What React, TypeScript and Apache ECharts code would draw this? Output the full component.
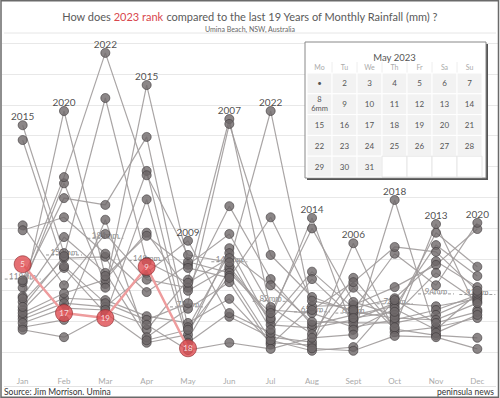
import React, { useEffect, useRef } from "react";
import * as echarts from "echarts";

const months = ["Jan", "Feb", "Mar", "Apr", "May", "Jun", "Jul", "Aug", "Sept", "Oct", "Nov", "Dec"];

// Monthly rainfall (mm), Jan..Dec, per past year
const r2005 = [68, 136, 63, 15, 28, 168, 44, 39, 52, 79, 74, 86];
const r2006 = [58, 87, 84, 58, 47, 86, 15, 11, 176, 32, 40, 55];
const r2007 = [81, 152, 154, 36, 117, 377, 68, 63, 40, 52, 68, 92];
const r2008 = [104, 273, 110, 293, 21, 134, 52, 130, 71, 87, 147, 105];
const r2009 = [53, 79, 73, 128, 180, 57, 24, 16, 104, 37, 27, 23];
const r2010 = [90, 186, 128, 24, 70, 113, 12, 74, 76, 105, 141, 199];
const r2011 = [205, 108, 191, 117, 104, 236, 118, 44, 60, 74, 173, 123];
const r2012 = [113, 249, 238, 348, 40, 160, 108, 49, 47, 47, 60, 89];
const r2013 = [197, 218, 159, 97, 141, 191, 73, 29, 120, 40, 207, 68];
const r2014 = [63, 95, 117, 193, 99, 138, 55, 217, 36, 70, 36, 95];
const r2015 = [367, 160, 104, 432, 146, 128, 63, 200, 81, 60, 128, 82];
const r2016 = [343, 139, 79, 52, 79, 369, 157, 89, 65, 55, 52, 79];
const r2017 = [40, 52, 214, 19, 36, 123, 19, 2, 8, 84, 47, 65];
const r2018 = [47, 71, 68, 44, 3, 15, 5, 23, 28, 246, 31, 60];
const r2019 = [36, 24, 60, 247, 15, 63, 31, 6, 2, 26, 24, 5];
const r2020 = [87, 390, 123, 188, 136, 120, 218, 83, 68, 159, 108, 209];
const r2021 = [73, 155, 411, 146, 112, 152, 36, 118, 55, 65, 193, 138];
const r2022 = [116, 283, 484, 286, 157, 145, 390, 68, 113, 170, 162, 99];

const rain2023 = [142, 63, 55, 138, 6];

const avgRain = [118, 157, 184, 148, 73, 146, 82, 65, 63, 78, 94, 93];
const avgLabels = ["118mm", "157mm", "184mm", "148mm", "73mm", "146mm", "82mm", "65mm", "63mm", "78mm", "94mm", "93mm"];

const pastYears = [
  { year: 2005, values: r2005 }, { year: 2006, values: r2006 }, { year: 2007, values: r2007 },
  { year: 2008, values: r2008 }, { year: 2009, values: r2009 }, { year: 2010, values: r2010 },
  { year: 2011, values: r2011 }, { year: 2012, values: r2012 }, { year: 2013, values: r2013 },
  { year: 2014, values: r2014 }, { year: 2015, values: r2015 }, { year: 2016, values: r2016 },
  { year: 2017, values: r2017 }, { year: 2018, values: r2018 }, { year: 2019, values: r2019 },
  { year: 2020, values: r2020 }, { year: 2021, values: r2021 }, { year: 2022, values: r2022 },
];

// Calendar inset
const calTitle = "May 2023";
const weekdays = ["Mo", "Tu", "We", "Th", "Fr", "Sa", "Su"];
const calDays = ["•", "2", "3", "4", "5", "6", "7", "8", "9", "10", "11", "12", "13", "14", "15", "16", "17", "18", "19", "20", "21", "22", "23", "24", "25", "26", "27", "28", "29", "30", "31"];
const calNoteDay = 8;
const calNote = "6mm";

const FONT = "Lato";

function buildOption() {
  const series: any[] = [];

  // average dashed markers
  series.push({
    type: "custom",
    z: 1,
    silent: true,
    itemStyle: { color: "#8a8a8a" },
    data: avgRain.map((v, i) => [i, v]),
    renderItem: (params: any, api: any) => {
      const p = api.coord([api.value(0), api.value(1)]);
      const half = 18;
      return {
        type: "group",
        children: [
          {
            type: "line",
            shape: { x1: p[0] - half, y1: p[1], x2: p[0] + half, y2: p[1] },
            style: { stroke: "#9a9a9a", lineWidth: 1, lineDash: [3, 2] },
          },
          {
            type: "text",
            style: {
              text: avgLabels[params.dataIndex],
              x: p[0],
              y: p[1] + 1,
              align: "center",
              verticalAlign: "bottom",
              fill: "#8a8a8a",
              fontSize: 8,
              fontFamily: FONT,
            },
          },
        ],
      };
    },
  });

  pastYears.forEach((py) => {
    series.push({
      type: "line",
      name: String(py.year),
      data: py.values,
      symbol: "none",
      z: 2,
      silent: true,
      lineStyle: { color: "#a09b9b", width: 1.2, opacity: 0.9 },
    });
  });

  // dots with labels for monthly maxima
  const dots: any[] = [];
  months.forEach((_, m) => {
    let maxV = -1;
    let maxY = 0;
    pastYears.forEach((py) => {
      if (py.values[m] > maxV) {
        maxV = py.values[m];
        maxY = py.year;
      }
    });
    pastYears.forEach((py) => {
      const item: any = { value: [m, py.values[m]] };
      if (py.year === maxY) {
        item.label = {
          show: true,
          position: "top",
          distance: -1,
          formatter: String(py.year),
          color: "#222",
          fontSize: 10,
          fontFamily: FONT,
        };
      }
      dots.push(item);
    });
  });
  series.push({
    type: "scatter",
    data: dots,
    z: 3,
    symbolSize: 9,
    silent: true,
    itemStyle: { color: "#6e6869", borderColor: "#3f3b3c", borderWidth: 0.8 },
  });

  // 2023
  series.push({
    type: "line",
    data: rain2023,
    symbol: "none",
    z: 4,
    silent: true,
    lineStyle: { color: "#ee9c9d", width: 2.5 },
  });
  series.push({
    type: "scatter",
    z: 5,
    silent: true,
    symbolSize: 17,
    data: rain2023.map((v, m) => {
      const rank = 1 + pastYears.filter((py) => py.values[m] > v).length;
      return {
        value: [m, v],
        label: { show: true, position: "inside", formatter: String(rank), color: "#fff", fontSize: 8, fontFamily: FONT },
      };
    }),
    itemStyle: { color: "#df4b50", borderColor: "#8e2a2e", borderWidth: 0.8 },
  });

  // graphics: frame, separators, calendar, footer
  const g: any[] = [];
  g.push({ type: "rect", shape: { x: 1, y: 0.75, width: 497.5, height: 396.5 }, style: { fill: "none", stroke: "#6a6a6a", lineWidth: 1.5 }, z: 100 });
  g.push({ type: "line", shape: { x1: 4, y1: 33, x2: 496, y2: 33 }, style: { stroke: "#e6e6e6", lineWidth: 1 } });
  g.push({ type: "line", shape: { x1: 4, y1: 386.5, x2: 496, y2: 386.5 }, style: { stroke: "#e3e3e3", lineWidth: 1 } });
  g.push({ type: "text", style: { text: "Source: Jim Morrison. Umina", x: 4, y: 391.5, verticalAlign: "middle", fill: "#333", fontSize: 8.5, fontFamily: FONT } });
  g.push({ type: "text", style: { text: "peninsula news", x: 494, y: 391.5, align: "right", verticalAlign: "middle", fill: "#333", fontSize: 8.5, fontFamily: FONT } });

  const bx = 305, by = 42, bw = 181, bh = 136;
  g.push({ type: "rect", z: 50, shape: { x: bx + 2, y: by + 2, width: bw, height: bh }, style: { fill: "#555" } });
  g.push({ type: "rect", z: 51, shape: { x: bx, y: by, width: bw, height: bh }, style: { fill: "#fff", stroke: "#888", lineWidth: 1 } });
  g.push({ type: "text", z: 52, style: { text: calTitle, x: bx + bw / 2 - 1, y: 57, align: "center", verticalAlign: "middle", fill: "#555", fontSize: 9.5, fontFamily: FONT } });
  const cx0 = 307, cw = 25, cy0 = 73, ch = 20.8;
  weekdays.forEach((d, i) => {
    g.push({ type: "text", z: 52, style: { text: d, x: cx0 + cw * i + cw / 2, y: 67, align: "center", verticalAlign: "middle", fill: "#aaa", fontSize: 7, fontFamily: FONT } });
    if (i > 0) g.push({ type: "line", z: 52, shape: { x1: cx0 + cw * i, y1: 62, x2: cx0 + cw * i, y2: 73 }, style: { stroke: "#eee", lineWidth: 1 } });
  });
  for (let k = 0; k < 35; k++) {
    const col = k % 7;
    const row = Math.floor(k / 7);
    const x = cx0 + col * cw;
    const y = cy0 + row * ch;
    const has = k < calDays.length;
    g.push({ type: "rect", z: 52, shape: { x, y, width: cw, height: ch }, style: { fill: has ? "#f2f2f2" : "#fff", stroke: has ? "#fff" : "#e6e6e6", lineWidth: 1 } });
    if (has) {
      const day = k + 1;
      const txt = day === calNoteDay ? calDays[k] + "\n" + calNote : calDays[k];
      g.push({ type: "text", z: 53, style: { text: txt, x: x + cw / 2, y: y + ch / 2, align: "center", verticalAlign: "middle", fill: "#555", fontSize: day === calNoteDay ? 7.5 : 8, lineHeight: 9, fontFamily: FONT } });
    }
  }

  return {
    animation: false,
    backgroundColor: "#fff",
    title: {
      text: "{a|How does }{b|2023 rank}{a| compared to the last 19 Years of Monthly Rainfall (mm) ?}",
      subtext: "Umina Beach, NSW, Australia",
      left: "center",
      top: 6,
      itemGap: 3,
      textStyle: {
        fontWeight: "normal",
        rich: {
          a: { fontSize: 11, color: "#5a5a5a", fontFamily: FONT, fontWeight: "normal" },
          b: { fontSize: 11, color: "#d8474d", fontFamily: FONT, fontWeight: "normal" },
        },
      },
      subtextStyle: { fontSize: 7, color: "#666", fontFamily: FONT },
    },
    grid: { left: 2, right: 2, top: 43, bottom: 46 },
    xAxis: {
      type: "category",
      data: months,
      boundaryGap: true,
      axisLine: { show: false },
      axisTick: { show: false },
      axisLabel: { color: "#aaa", fontSize: 8, margin: 25, fontFamily: FONT },
      splitLine: { show: false },
    },
    yAxis: {
      type: "value",
      min: 0,
      max: 500,
      interval: 50,
      axisLabel: { show: false },
      axisLine: { show: false },
      axisTick: { show: false },
      splitLine: { lineStyle: { color: "#e8e8e8", width: 1 } },
    },
    series,
    graphic: g,
  };
}

export default function App() {
  const ref = useRef<HTMLDivElement>(null);
  useEffect(() => {
    const chart = echarts.init(ref.current!, null, { renderer: "svg" });
    chart.setOption(buildOption());
    return () => chart.dispose();
  }, []);
  return (
    <div
      ref={ref}
      style={{ position: "absolute", left: 0, top: 0, width: 500, height: 398, background: "#fff" }}
    />
  );
}
